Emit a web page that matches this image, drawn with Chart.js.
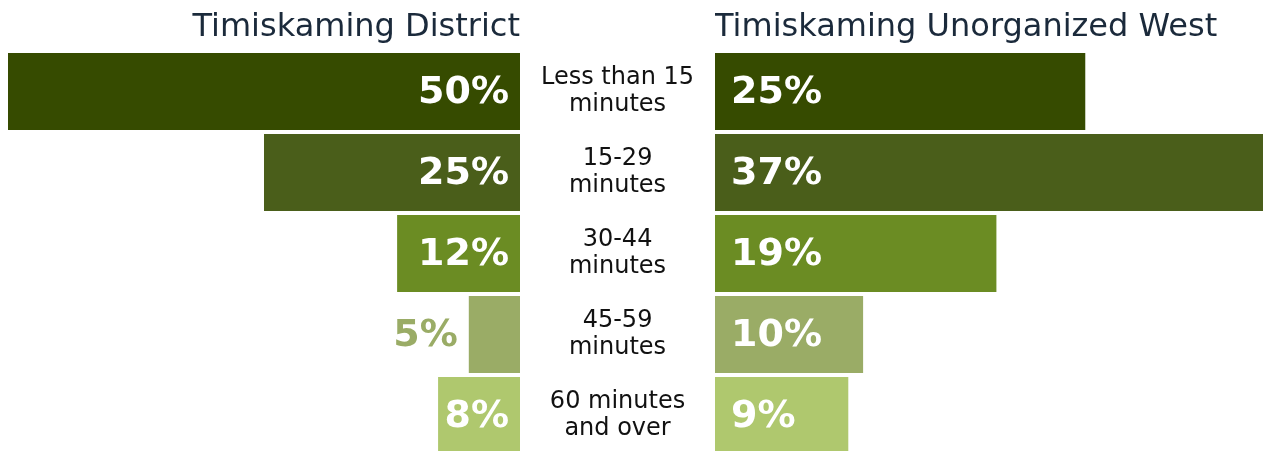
<!DOCTYPE html>
<html>
<head>
<meta charset="utf-8">
<script src="https://cdn.jsdelivr.net/npm/chart.js@4/dist/chart.umd.min.js"></script>
<style>
  html, body { margin: 0; padding: 0; background: #fff; overflow: hidden; }
  #wrap { position: relative; width: 1266px; height: 451px; }
  canvas { position: absolute; top: 0; }
  #left { left: 0; }
  #right { left: 715px; }
</style>
</head>
<body>
<div id="wrap">
  <canvas id="left" width="715" height="460"></canvas>
  <canvas id="right" width="551" height="460"></canvas>
</div>
<script>
const categories = [
    ['Less than 15', 'minutes'],
    ['15-29', 'minutes'],
    ['30-44', 'minutes'],
    ['45-59', 'minutes'],
    ['60 minutes', 'and over'],
];

const districtValues = [50, 25, 12, 5, 8];
const unorganizedValues = [25, 37, 19, 10, 9];

const districtTitle = 'Timiskaming District';
const unorganizedTitle = 'Timiskaming Unorganized West';

const barColors = ['#364b00', '#4a5e1a', '#6b8c23', '#9aac66', '#afc86e'];

const fontFamily = '"DejaVu Sans", sans-serif';
const valueFont = 'bold 38px "DejaVu Sans", sans-serif';

// percent labels: inside the bar in white, or just past its end in the bar colour
const barLabels = {
    id: 'barLabels',
    afterDatasetsDraw(chart, args, opts) {
        const ctx = chart.ctx;
        const meta = chart.getDatasetMeta(0);
        const values = chart.data.datasets[0].data;
        ctx.save();
        ctx.font = valueFont;
        ctx.textBaseline = 'alphabetic';
        meta.data.forEach((bar, i) => {
            const text = values[i] + '%';
            const w = ctx.measureText(text).width;
            const len = Math.abs(bar.x - bar.base);
            const inside = w + opts.gap <= len;
            let x;
            if (opts.side === 'left') {
                ctx.textAlign = 'right';
                x = inside ? bar.base - opts.gap : bar.x - opts.gap;
            } else {
                ctx.textAlign = 'left';
                x = inside ? bar.base + opts.inset : bar.x + opts.gap;
            }
            ctx.fillStyle = inside ? '#ffffff' : barColors[i];
            ctx.fillText(text, x, bar.y + 11);
        });
        ctx.restore();
    }
};

// heading above each half, lined up with the bar base
const sideTitle = {
    id: 'sideTitle',
    afterDraw(chart, args, opts) {
        const ctx = chart.ctx;
        const area = chart.chartArea;
        ctx.save();
        ctx.font = '32px ' + fontFamily;
        ctx.fillStyle = '#1b2a3b';
        ctx.textBaseline = 'alphabetic';
        if (opts.side === 'left') {
            ctx.textAlign = 'right';
            ctx.fillText(opts.text, area.right, 36);
        } else {
            ctx.textAlign = 'left';
            ctx.fillText(opts.text, area.left - 1, 36);
        }
        ctx.restore();
    }
};

function baseOptions(max, reverse) {
    return {
        indexAxis: 'y',
        responsive: false,
        animation: false,
        events: [],
        layout: {
            padding: { top: 51, bottom: 4, left: 0, right: 0 },
        },
        plugins: {
            legend: { display: false },
            tooltip: { enabled: false },
            title: { display: false },
        },
        scales: {
            x: {
                display: false,
                min: 0,
                max: max,
                reverse: reverse,
            },
        },
    };
}

const leftOptions = baseOptions(50, true);
leftOptions.layout.padding.left = 8;
leftOptions.scales.y = {
    position: 'right',
    grid: { display: false, drawTicks: false },
    border: { display: false },
    ticks: {
        crossAlign: 'center',
        padding: 21,
        color: '#111111',
        font: { family: fontFamily, size: 24, lineHeight: 1.12 },
    },
    afterFit(axis) {
        axis.width = 195;
        axis.paddingTop = 0;
        axis.paddingBottom = 0;
    },
};
leftOptions.plugins.barLabels = { side: 'left', gap: 11, inset: 11 };
leftOptions.plugins.sideTitle = { side: 'left', text: districtTitle };

const rightOptions = baseOptions(37, false);
rightOptions.layout.padding.right = 3;
rightOptions.scales.y = { display: false };
rightOptions.plugins.barLabels = { side: 'right', gap: 11, inset: 16 };
rightOptions.plugins.sideTitle = { side: 'right', text: unorganizedTitle };

function dataset(values) {
    return {
        labels: categories,
        datasets: [{
            data: values,
            backgroundColor: barColors,
            borderWidth: 0,
            barPercentage: 77 / 81,
            categoryPercentage: 1,
        }],
    };
}

new Chart(document.getElementById('left').getContext('2d'), {
    type: 'bar',
    data: dataset(districtValues),
    options: leftOptions,
    plugins: [barLabels, sideTitle],
});

new Chart(document.getElementById('right').getContext('2d'), {
    type: 'bar',
    data: dataset(unorganizedValues),
    options: rightOptions,
    plugins: [barLabels, sideTitle],
});
</script>
</body>
</html>
